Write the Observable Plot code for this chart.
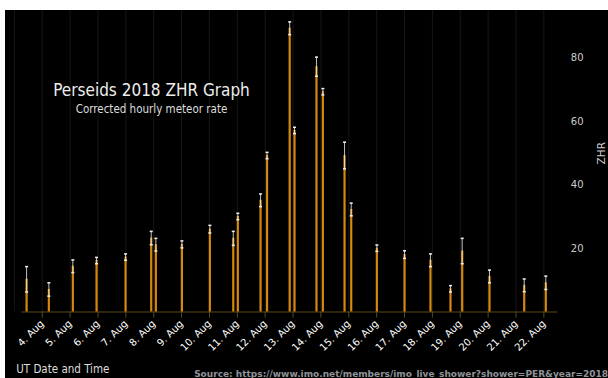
<!DOCTYPE html>
<html>
<head>
<meta charset="utf-8">
<script src="https://cdn.jsdelivr.net/npm/d3@7"></script>
<script src="https://cdn.jsdelivr.net/npm/@observablehq/plot@0.6"></script>
<style>
  html, body { margin: 0; padding: 0; background: #fff; }
  #chart { position: absolute; left: 5px; top: 10px; width: 603px; height: 368px; background: #000; overflow: hidden; }
  #chart svg { display: block; }
</style>
</head>
<body>
<div id="chart"></div>
<script>
// Observation times (UT), ZHR values and error (±)
const obsTimes = [
  "2018-08-03T10:30Z", "2018-08-04T05:40Z", "2018-08-05T02:20Z", "2018-08-05T22:45Z",
  "2018-08-06T23:45Z", "2018-08-07T21:50Z", "2018-08-08T01:50Z", "2018-08-09T00:15Z",
  "2018-08-10T00:20Z", "2018-08-10T20:30Z", "2018-08-11T00:25Z", "2018-08-11T20:00Z",
  "2018-08-12T01:35Z", "2018-08-12T21:05Z", "2018-08-13T01:15Z", "2018-08-13T20:10Z",
  "2018-08-14T01:40Z", "2018-08-14T20:20Z", "2018-08-15T02:05Z", "2018-08-16T00:10Z",
  "2018-08-17T00:00Z", "2018-08-17T22:20Z", "2018-08-18T15:35Z", "2018-08-19T01:40Z",
  "2018-08-20T01:10Z", "2018-08-21T07:05Z", "2018-08-22T01:40Z"
];
const zhrValues = [
  10.3, 7.1, 14.4, 16.2,
  17.3, 23.3, 21.2, 21.3,
  26.1, 23.2, 30.1, 35.2,
  49.3, 89.4, 57.2, 77.3,
  69.4, 49.3, 32.3, 20.1,
  18.1, 16.3, 7.3, 19.2,
  11.2, 8.4, 9.2
];
const zhrErrors = [
  4.0, 2.1, 2.0, 1.0,
  1.0, 2.1, 2.0, 1.1,
  1.2, 2.2, 1.0, 2.0,
  1.0, 2.0, 1.0, 3.0,
  1.0, 4.2, 2.0, 1.0,
  1.2, 2.0, 1.0, 4.0,
  2.0, 2.0, 2.1
];
// x tick days (labels "4. Aug" … "22. Aug") and grid days
const tickDays = [
  "2018-08-04", "2018-08-05", "2018-08-06", "2018-08-07", "2018-08-08", "2018-08-09",
  "2018-08-10", "2018-08-11", "2018-08-12", "2018-08-13", "2018-08-14", "2018-08-15",
  "2018-08-16", "2018-08-17", "2018-08-18", "2018-08-19", "2018-08-20", "2018-08-21",
  "2018-08-22"
];
const gridDays = ["2018-08-03", ...tickDays];
const yTicks = [20, 40, 60, 80];

const titleText = "Perseids 2018 ZHR Graph";
const subtitleText = "Corrected hourly meteor rate";
const xTitle = "UT Date and Time";
const yTitle = "ZHR";
const sourceText = "Source: https://www.imo.net/members/imo_live_shower?shower=PER&year=2018";

const data = obsTimes.map((t, i) => ({
  date: new Date(t),
  zhr: zhrValues[i],
  lo: zhrValues[i] - zhrErrors[i],
  hi: zhrValues[i] + zhrErrors[i]
}));

const capSymbol = {
  draw(context, size) {
    const w = Math.sqrt(size);
    context.moveTo(-w / 2, 0);
    context.lineTo(w / 2, 0);
  }
};

const axisColor = "#5e4b16";
const condensed = "'DejaVu Sans Condensed', 'DejaVu Sans', sans-serif";

const chart = Plot.plot({
  width: 603,
  height: 368,
  marginLeft: 16.7,
  marginRight: 50.7,
  marginTop: 0,
  marginBottom: 66.5,
  style: {
    background: "#000",
    color: "#fff",
    fontFamily: "'DejaVu Sans', sans-serif",
    overflow: "visible"
  },
  x: { type: "utc", domain: [new Date("2018-08-03T06:43Z"), new Date("2018-08-22T12:00Z")] },
  y: { domain: [0, 95] },
  marks: [
    Plot.ruleX(gridDays, { x: d => new Date(d + "T00:00Z"), stroke: "#161616" }),
    Plot.ruleY([0], { stroke: axisColor }),
    Plot.axisX({
      ticks: tickDays.map(d => new Date(d + "T00:00Z")),
      tickFormat: d => `${d.getUTCDate()}. Aug`,
      tickRotate: -45,
      tickSize: 6,
      tickPadding: 4,
      stroke: axisColor,
      fill: "#fff",
      fontSize: 10,
      label: null
    }),
    Plot.axisY({
      anchor: "right",
      ticks: yTicks,
      tickSize: 0,
      tickPadding: 13,
      fill: "#ccc",
      fontSize: 10,
      label: null
    }),
    Plot.ruleX(data, { x: "date", y1: 0, y2: "zhr", stroke: "#d4880c", strokeWidth: 2.2 }),
    Plot.ruleX(data, { x: "date", y1: "lo", y2: "hi", stroke: "#eee", strokeOpacity: 0.8 }),
    Plot.dot(data, { x: "date", y: "lo", symbol: capSymbol, r: 1.7, stroke: "#eee", fill: "none" }),
    Plot.dot(data, { x: "date", y: "hi", symbol: capSymbol, r: 1.7, stroke: "#eee", fill: "none" }),
    Plot.text([titleText], {
      text: d => d, frameAnchor: "top-left", dx: 129.3, dy: 73.9,
      textAnchor: "middle", fontSize: 17, fill: "#eee", fontFamily: condensed
    }),
    Plot.text([subtitleText], {
      text: d => d, frameAnchor: "top-left", dx: 129.3, dy: 94.6,
      textAnchor: "middle", fontSize: 11.5, fill: "#ddd", fontFamily: condensed
    }),
    Plot.text([xTitle], {
      text: d => d, frameAnchor: "top-left", dx: -6, dy: 354,
      textAnchor: "start", fontSize: 11.5, fill: "#ddd", fontFamily: condensed
    }),
    Plot.text([yTitle], {
      text: d => d, frameAnchor: "right", dx: 44, dy: -8, rotate: -90,
      textAnchor: "middle", fontSize: 10.5, fill: "#ccc"
    }),
    Plot.text([sourceText], {
      text: d => d, frameAnchor: "top-right", dx: 50.2, dy: 360.5,
      textAnchor: "end", fontSize: 9, fontWeight: "bold", fill: "#8f9399"
    })
  ]
});
document.getElementById("chart").append(chart);
</script>
</body>
</html>
